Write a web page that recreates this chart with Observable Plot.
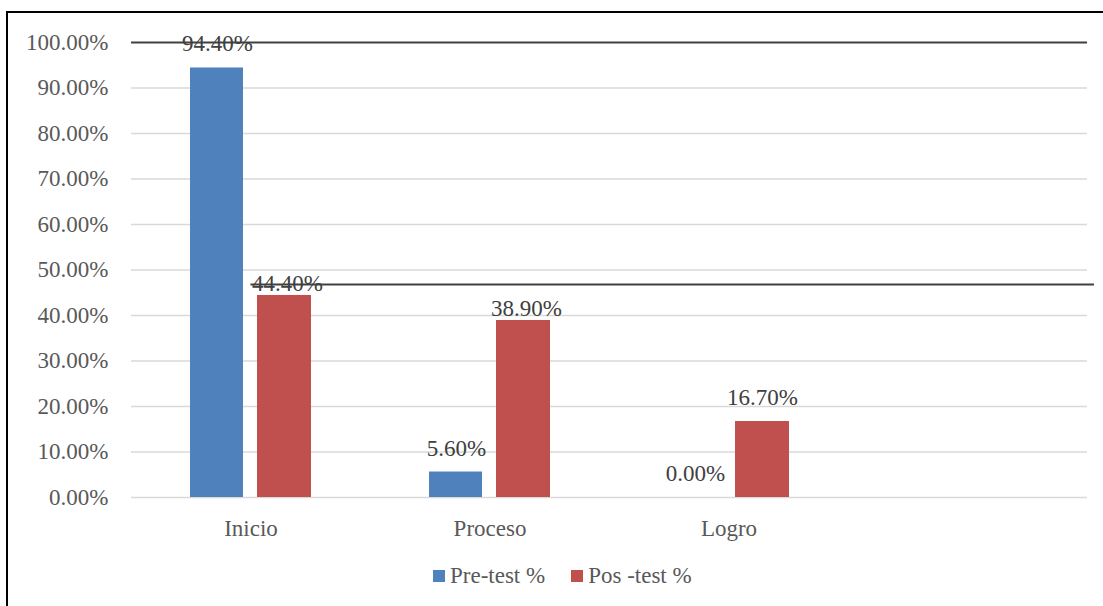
<!DOCTYPE html>
<html>
<head>
<meta charset="utf-8">
<script src="https://cdn.jsdelivr.net/npm/d3@7"></script>
<script src="https://cdn.jsdelivr.net/npm/@observablehq/plot@0.6"></script>
<style>
  html, body { margin: 0; padding: 0; background: #fff; }
  body { width: 1103px; height: 606px; overflow: hidden; position: relative; }
  #chart {
    position: absolute; left: 6px; top: 11px;
    width: 1097px; height: 595px;
    border-top: 2px solid #000; border-left: 2px solid #000;
    font-family: "Liberation Serif", "Times New Roman", serif;
    color: #595959;
  }
  #chart svg { display: block; }
  .legend { display: flex; align-items: center; margin-left: 425px; margin-top: 8px; font-size: 23px; line-height: 30px; }
  .legend .item { display: flex; align-items: center; margin-right: 26px; }
  .legend .sw { width: 12px; height: 12px; margin-right: 5px; }
</style>
</head>
<body>
<div id="chart"></div>
<script>
// Categories along the x axis (the last band is left empty)
const categories = ["Inicio", "Proceso", "Logro", ""];
// Series names and their colours
const series = ["Pre-test %", "Pos -test %"];
const seriesColors = ["#4F81BD", "#C0504D"];
// Percentages per category
const preTest = [94.4, 5.6, 0.0];
const posTest = [44.4, 38.9, 16.7];
// Y axis ticks
const yTicks = [0, 10, 20, 30, 40, 50, 60, 70, 80, 90, 100];
// Horizontal dark line drawn across the chart
const crossLineValue = 46.8;

const rows = [];
categories.slice(0, 3).forEach((c, i) => {
  rows.push({category: c, series: series[0], value: preTest[i]});
  rows.push({category: c, series: series[1], value: posTest[i]});
});

// Placement of each series inside its category band
const seriesStyle = {
  [series[0]]: {insetLeft: 59, insetRight: 127, dx: -33.5},
  [series[1]]: {insetLeft: 126, insetRight: 59, dx: 33.5}
};

const fmt = v => v.toFixed(2) + "%";

const marks = [
  Plot.ruleY(yTicks.filter(t => t < 100), {stroke: "#d9d9d9", strokeWidth: 1.5}),
  Plot.ruleY([100], {stroke: "#404040", strokeWidth: 2})
];

series.forEach((s, k) => {
  const data = rows.filter(d => d.series === s);
  const st = seriesStyle[s];
  marks.push(Plot.barY(data, {
    x: "category", y: "value", fill: seriesColors[k],
    insetLeft: st.insetLeft, insetRight: st.insetRight
  }));
  marks.push(Plot.text(data, {
    x: "category", y: "value", text: d => fmt(d.value),
    dx: st.dx, dy: -16.5, lineAnchor: "bottom",
    fill: "#404040", fontSize: 23,
    filter: d => !(k === 1 && d.value > 30)
  }));
  if (k === 1) {
    marks.push(Plot.text(data, {
      x: "category", y: "value", text: d => fmt(d.value),
      dx: st.dx + 3, dy: -4.5, lineAnchor: "bottom",
      fill: "#404040", fontSize: 23,
      filter: d => d.value > 30
    }));
  }
});

// Dark line starting at the centre of the first band and running past the right edge
marks.push(Plot.ruleY([crossLineValue], {
  stroke: "#404040", strokeWidth: 2, insetLeft: 119.5, insetRight: -7
}));

const chart = Plot.plot({
  width: 1095,
  height: 540,
  marginLeft: 123,
  marginRight: 16,
  marginTop: 29,
  marginBottom: 56,
  style: {fontFamily: "'Liberation Serif', 'Times New Roman', serif", fontSize: "23px", color: "#595959", background: "transparent"},
  x: {domain: categories, padding: 0, tickSize: 0, tickPadding: 22, label: null},
  y: {domain: [0, 100], ticks: yTicks, tickFormat: fmt, tickSize: 0, tickPadding: 23, label: null},
  marks
});

const root = document.getElementById("chart");
root.appendChild(chart);

const legend = document.createElement("div");
legend.className = "legend";
series.forEach((s, k) => {
  const item = document.createElement("div");
  item.className = "item";
  const sw = document.createElement("span");
  sw.className = "sw";
  sw.style.background = seriesColors[k];
  const label = document.createElement("span");
  label.textContent = s;
  item.appendChild(sw);
  item.appendChild(label);
  legend.appendChild(item);
});
root.appendChild(legend);
</script>
</body>
</html>
